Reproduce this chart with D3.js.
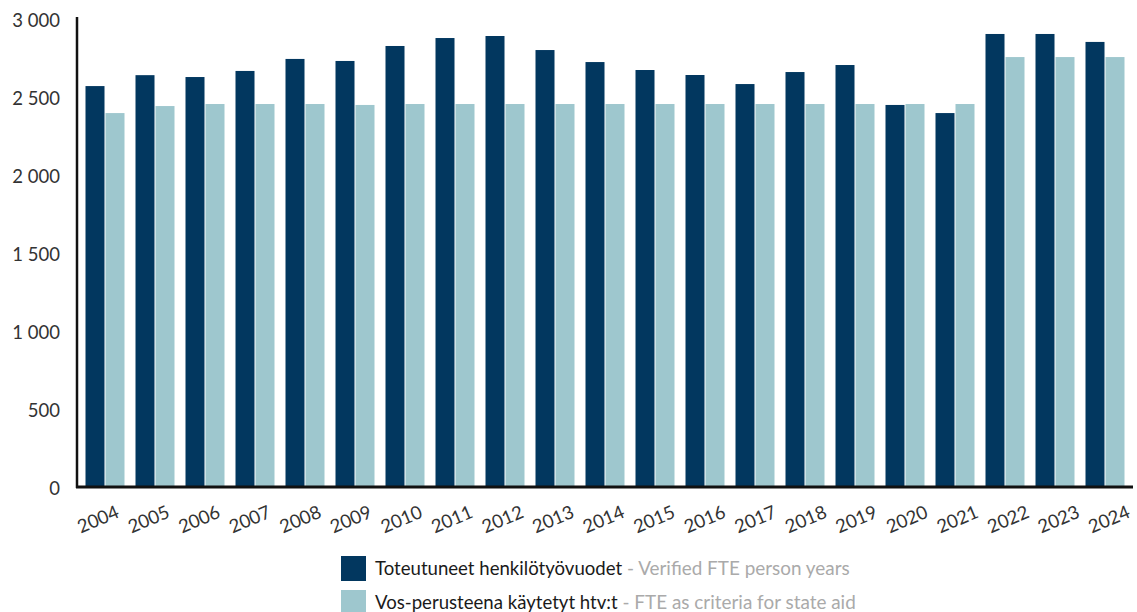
<!DOCTYPE html>
<html><head><meta charset="utf-8">
<script src="https://cdn.jsdelivr.net/npm/d3@7"></script>
<style>
html,body{margin:0;padding:0;background:#fff;}
svg{display:block;font-family:Lato,"Open Sans",sans-serif;}
</style></head>
<body><svg id="c" width="1137" height="612"></svg>
<script>
const years = ["2004","2005","2006","2007","2008","2009","2010","2011","2012","2013","2014","2015","2016","2017","2018","2019","2020","2021","2022","2023","2024"];
const verified = [2570,2640,2628,2667,2744,2731,2827,2878,2891,2801,2724,2673,2641,2583,2660,2705,2449,2397,2904,2904,2853];
const stateAid = [2397,2442,2455,2455,2455,2449,2455,2455,2455,2455,2455,2455,2455,2455,2455,2455,2455,2455,2756,2756,2756];
const yTicks = [0,500,1000,1500,2000,2500,3000];
const seriesKeys = ["verified","stateAid"];
const legendFi = ["Toteutuneet henkilötyövuodet","Vos-perusteena käytetyt htv:t"];
const legendEn = [" - Verified FTE person years"," - FTE as criteria for state aid"];
const colors = ["#02375f","#9ec7ce"];

const svg = d3.select("#c");
const y = d3.scaleLinear().domain([0,3000]).range([487,19]);
const x = d3.scaleBand().domain(years).range([80,1130]).paddingInner(0.22).paddingOuter(0.11);
const xs = d3.scaleBand().domain(seriesKeys).range([0,x.bandwidth()]).paddingInner(0.05);
const xl = d3.scalePoint().domain(years).range([98,1109]);
const color = d3.scaleOrdinal().domain(seriesKeys).range(colors);

const data = years.map((yr,i)=>({year:yr, verified:verified[i], stateAid:stateAid[i]}));

const g = svg.append("g");
g.selectAll("g.grp").data(data).join("g").attr("class","grp")
  .attr("transform",d=>`translate(${x(d.year)},0)`)
  .selectAll("rect").data(d=>seriesKeys.map(k=>({k, v:d[k]}))).join("rect")
  .attr("x",d=>xs(d.k)).attr("width",xs.bandwidth())
  .attr("y",d=>y(d.v)).attr("height",d=>y(0)-y(d.v))
  .attr("fill",d=>color(d.k));

// y tick labels
svg.append("g").selectAll("text").data(yTicks).join("text")
  .attr("x",60).attr("y",d=>y(d)+1).attr("dy","0.36em")
  .attr("text-anchor","end").attr("font-size",18.5).attr("fill","#333")
  .text(d=>d3.format(",")(d).replace(","," "));

// axes lines
svg.append("line").attr("x1",77).attr("x2",77).attr("y1",17).attr("y2",488)
  .attr("stroke","#111").attr("stroke-width",2.5);
svg.append("line").attr("x1",76).attr("x2",1133).attr("y1",y(0)).attr("y2",y(0))
  .attr("stroke","#111").attr("stroke-width",2.8);

// x labels
svg.append("g").selectAll("text").data(years).join("text")
  .attr("transform",d=>`translate(${xl(d)},519) rotate(-23)`)
  .attr("dy","0.36em").attr("text-anchor","middle")
  .attr("font-size",18.5).attr("fill","#333").text(d=>d);

// legend
const lg = svg.append("g").selectAll("g").data(seriesKeys).join("g")
  .attr("transform",(d,i)=>`translate(341,${556+i*34})`);
lg.append("rect").attr("width",25).attr("height",25).attr("fill",d=>color(d));
const lt = lg.append("text").attr("x",34).attr("y",19);
lt.append("tspan").attr("fill","#1a1a1a").attr("font-size",18.6).text((d,i)=>legendFi[i]);
lt.append("tspan").attr("fill","#aaaaaa").attr("font-size",18.9).text((d,i)=>legendEn[i]);
</script></body></html>
